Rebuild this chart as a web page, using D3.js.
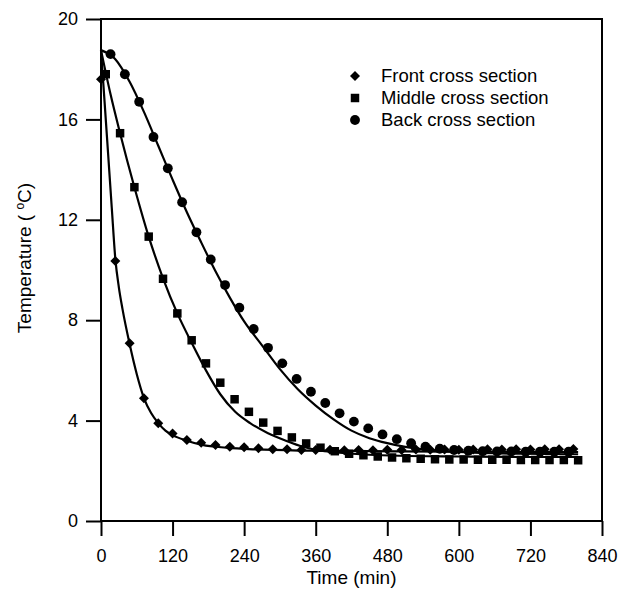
<!DOCTYPE html>
<html>
<head>
<meta charset="utf-8">
<script src="https://cdn.jsdelivr.net/npm/d3@7"></script>
<style>
  body { margin: 0; background: #fff; }
  svg { display: block; font-family: "Liberation Sans", Arial, sans-serif; }
  .axis text { font-size: 18px; fill: #000; }
  .axis line { stroke: #000; stroke-width: 2; }
</style>
</head>
<body>
<svg width="618" height="591"></svg>
<script>
// measured points (time in min, temperature in degC)
var frontTime = [0, 24, 48, 72, 96, 120, 144, 168, 192, 216, 240, 264, 288, 312, 336, 360, 384,
  408, 432, 456, 480, 504, 528, 552, 576, 600, 624, 648, 672, 696, 720, 744, 768, 792];
var frontTemp = [17.6, 10.36, 7.08, 4.89, 3.89, 3.49, 3.23, 3.12, 3.03, 2.96, 2.94, 2.9, 2.86, 2.86, 2.83, 2.83, 2.84,
  2.82, 2.83, 2.82, 2.84, 2.83, 2.85, 2.84, 2.85, 2.84, 2.85, 2.86, 2.85, 2.86, 2.85, 2.86, 2.86, 2.87];

var middleTime = [8, 32, 56, 80, 104, 128, 152, 176, 200, 224, 248, 272, 296, 320, 344, 368, 392,
  416, 440, 464, 488, 512, 536, 560, 584, 608, 632, 656, 680, 704, 728, 752, 776, 800];
var middleTemp = [17.8, 15.45, 13.3, 11.33, 9.65, 8.27, 7.2, 6.28, 5.51, 4.85, 4.35, 3.92, 3.59, 3.33, 3.09, 2.92, 2.78,
  2.68, 2.62, 2.57, 2.53, 2.5, 2.48, 2.46, 2.45, 2.45, 2.44, 2.44, 2.44, 2.43, 2.43, 2.43, 2.43, 2.42];

var backTime = [16, 40, 64, 88, 112, 136, 160, 184, 208, 232, 256, 280, 304, 328, 352, 376, 400,
  424, 448, 472, 496, 520, 544, 568, 592, 616, 640, 664, 688, 712, 736, 760, 784];
var backTemp = [18.6, 17.8, 16.7, 15.3, 14.05, 12.7, 11.5, 10.42, 9.4, 8.5, 7.65, 6.9, 6.28, 5.66, 5.15, 4.7, 4.29,
  3.96, 3.69, 3.45, 3.26, 3.1, 2.96, 2.88, 2.83, 2.8, 2.78, 2.77, 2.77, 2.76, 2.76, 2.76, 2.76];

// model curves
var frontFitTime = [0, 6, 12, 18, 24, 30, 36, 48, 60, 72, 84, 96, 108, 120, 144, 170, 210, 260, 350, 500, 650, 800];
var frontFitTemp = [18.76, 16.7, 14.6, 12.5, 10.45, 9.3, 8.45, 7.05, 5.85, 4.9, 4.3, 3.9, 3.6, 3.42, 3.2, 3.03, 2.92, 2.85, 2.8, 2.77, 2.76, 2.75];

var middleFitTime = [0, 16, 32, 56, 80, 104, 128, 152, 176, 200, 225, 250, 280, 310, 340, 370, 400, 450, 500, 600, 700, 800];
var middleFitTemp = [18.76, 17.0, 15.45, 13.3, 11.33, 9.67, 8.27, 7.1, 6.0, 5.05, 4.35, 3.9, 3.5, 3.2, 2.95, 2.8, 2.72, 2.64, 2.6, 2.57, 2.55, 2.55];

var backFitTime = [0, 24, 48, 72, 96, 120, 144, 168, 192, 216, 240, 270, 300, 330, 360, 390, 420, 450, 480, 510, 540, 600, 700, 800];
var backFitTemp = [18.76, 18.4, 17.5, 16.3, 14.95, 13.6, 12.3, 11.1, 9.95, 8.9, 7.95, 7.0, 6.05, 5.25, 4.6, 4.05, 3.6, 3.3, 3.1, 2.95, 2.85, 2.75, 2.68, 2.66];

var xTicks = [0, 120, 240, 360, 480, 600, 720, 840];
var yTicks = [0, 4, 8, 12, 16, 20];
var legendNames = ["Front cross section", "Middle cross section", "Back cross section"];

var svg = d3.select("svg"),
    margin = {top: 19, right: 16, bottom: 70, left: 101},
    width = +svg.attr("width") - margin.left - margin.right,
    height = +svg.attr("height") - margin.top - margin.bottom,
    g = svg.append("g").attr("transform", "translate(" + margin.left + "," + margin.top + ")");

var x = d3.scaleLinear().domain([0, 840]).range([0, width]);
var y = d3.scaleLinear().domain([0, 20]).range([height, 0]);

g.append("g")
    .attr("class", "axis")
    .attr("transform", "translate(0," + height + ")")
    .call(d3.axisBottom(x).tickValues(xTicks).tickSize(15).tickPadding(13))
    .call(function(a) { a.select(".domain").remove(); });

g.append("g")
    .attr("class", "axis")
    .call(d3.axisLeft(y).tickValues(yTicks).tickSize(15).tickPadding(8))
    .call(function(a) { a.select(".domain").remove(); });

g.append("rect")
    .attr("width", width)
    .attr("height", height)
    .attr("fill", "none")
    .attr("stroke", "#000")
    .attr("stroke-width", 2);

var line = d3.line()
    .x(function(d) { return x(d[0]); })
    .y(function(d) { return y(d[1]); })
    .curve(d3.curveMonotoneX);

[[frontFitTime, frontFitTemp], [middleFitTime, middleFitTemp], [backFitTime, backFitTemp]].forEach(function(s) {
  g.append("path")
      .datum(d3.zip(s[0], s[1]))
      .attr("d", line)
      .attr("fill", "none")
      .attr("stroke", "#000")
      .attr("stroke-width", 2.2);
});

var shapes = [
  d3.symbol().type(d3.symbolDiamond2).size(64),
  d3.symbol().type(d3.symbolSquare).size(72),
  d3.symbol().type(d3.symbolCircle).size(76)
];
var series = [[frontTime, frontTemp], [middleTime, middleTemp], [backTime, backTemp]];

series.forEach(function(s, i) {
  g.selectAll(".pt" + i)
    .data(d3.zip(s[0], s[1]))
    .enter().append("path")
      .attr("class", "pt" + i)
      .attr("transform", function(d) { return "translate(" + x(d[0]) + "," + y(d[1]) + ")"; })
      .attr("d", shapes[i])
      .attr("fill", "#000");
});

// legend
var legend = g.selectAll(".legend")
    .data(legendNames)
    .enter().append("g")
      .attr("class", "legend")
      .attr("transform", function(d, i) { return "translate(254," + (57 + i * 22) + ")"; });

legend.append("path")
    .attr("d", function(d, i) { return shapes[i](); })
    .attr("fill", "#000");

legend.append("text")
    .attr("x", 26)
    .attr("dy", "0.35em")
    .style("font-size", "18.5px")
    .text(function(d) { return d; });

// axis titles
svg.append("text")
    .attr("x", margin.left + x(420))
    .attr("y", 584)
    .attr("text-anchor", "middle")
    .style("font-size", "19px")
    .text("Time (min)");

var yt = svg.append("text")
    .attr("transform", "translate(31,258) rotate(-90)")
    .attr("text-anchor", "middle")
    .style("font-size", "19px");
yt.append("tspan").text("Temperature ( ");
yt.append("tspan").attr("baseline-shift", "super").style("font-size", "12px").text("o");
yt.append("tspan").text("C)");
</script>
</body>
</html>
